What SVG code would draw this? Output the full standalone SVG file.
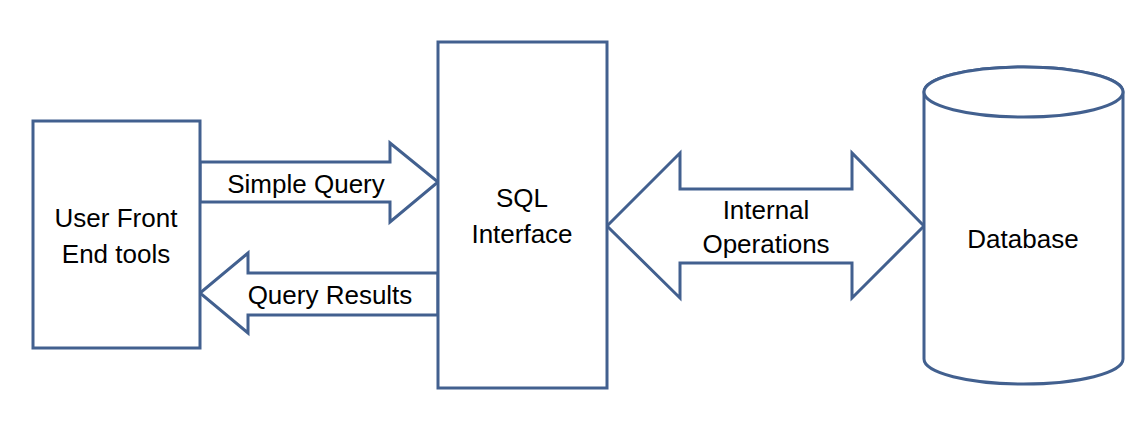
<svg xmlns="http://www.w3.org/2000/svg" width="1148" height="446" viewBox="0 0 1148 446">
<style>
.s{fill:#fff;stroke:#42608f;stroke-width:3;stroke-linejoin:miter}
.t{font-family:"Liberation Sans",Arial,sans-serif;font-size:26px;fill:#000;text-anchor:middle}
</style>
<rect width="1148" height="446" fill="#fff"/>
<g id="connectors">
<path class="s" d="M200,162 H390 V143 L438,182 L390,222 V202 H200 Z"/>
<path class="s" d="M438,273 H248 V253 L200,293 L248,333 V315 H438 Z"/>
<path class="s" d="M607,226 L680,153 V189 H852 V153 L924,226 L852,298 V263 H680 V298 Z"/>
<text class="t" x="306" y="193">Simple Query</text>
<text class="t" x="330" y="304">Query Results</text>
<text class="t" x="766" y="219">Internal</text>
<text class="t" x="766" y="253">Operations</text>
</g>
<g id="user-front-end">
<rect class="s" x="33" y="121" width="167" height="227"/>
<text class="t" x="116" y="227">User Front</text>
<text class="t" x="116" y="263">End tools</text>
</g>
<g id="sql-interface">
<rect class="s" x="438" y="42" width="169" height="346"/>
<text class="t" x="522" y="207">SQL</text>
<text class="t" x="522" y="243">Interface</text>
</g>
<g id="database">
<path class="s" d="M924,92 V359 A99.5,25 0 0 0 1123,359 V92 A99.5,25 0 0 0 924,92 Z"/>
<ellipse class="s" cx="1023.5" cy="92" rx="99.5" ry="25"/>
<text class="t" x="1023" y="248">Database</text>
</g>
</svg>
